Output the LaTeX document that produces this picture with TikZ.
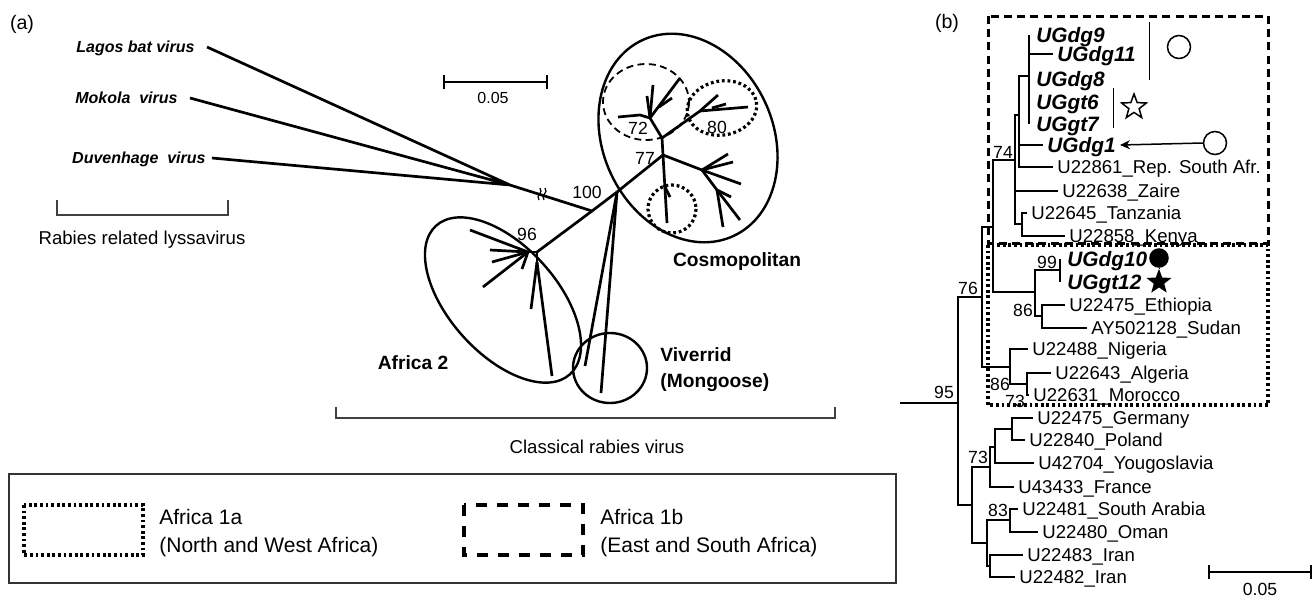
\documentclass[tikz,border=0pt]{standalone}
\usepackage{fontspec}
\setmainfont{Liberation Sans}
\usetikzlibrary{arrows.meta,shapes.geometric,calc}
\tikzset{
  br/.style={line width=1.35pt},
  tb/.style={line width=0.95pt},
  grp/.style={line width=1.2pt},
  dsh/.style={line width=1.5pt, dash pattern=on 4pt off 2.6pt},
  dtt/.style={line width=1.6pt, dash pattern=on 1.4pt off 1.4pt},
  bar/.style={line width=0.7pt, draw=black!75},
  sbar/.style={line width=1.1pt, {Bar[width=7pt]}-{Bar[width=7pt]}},
  boot/.style={font=\fontsize{8.8}{10}\selectfont, inner sep=0pt},
  txt/.style={font=\fontsize{9.3}{11}\selectfont, inner sep=0pt, align=left},
  leg/.style={font=\fontsize{10.5}{14}\selectfont, inner sep=0pt, align=left, anchor=west},
  tip/.style={font=\fontsize{9.3}{11}\selectfont, anchor=west, inner xsep=2pt, inner ysep=0pt, text height=6.6pt, text depth=0pt},
  ug/.style={tip, font=\fontsize{10.4}{12}\selectfont\bfseries\itshape, text height=7.4pt},
  lys/.style={font=\fontsize{8}{10}\selectfont\bfseries\itshape, anchor=east, inner xsep=6pt, inner ysep=0pt, text height=5.7pt, text depth=0pt},
  clade/.style={font=\fontsize{9.6}{13}\selectfont\bfseries, inner sep=0pt, align=left},
  sym/.style={draw, line width=0.75pt, inner sep=0pt}
}

\begin{document}
\begin{tikzpicture}[x=0.5pt, y=-0.5pt]
\useasboundingbox (0,0) rectangle (1314,596);

% (a) unrooted tree
\node[txt, font=\fontsize{9.8}{11}\selectfont] (pa) at (22,24) {(a)};
\node[lys] (lagos) at (207,47) {Lagos bat virus};
\node[lys] (mokola) at (190,98) {Mokola\ \ virus};
\node[lys, inner xsep=3pt] (duven) at (212,158) {Duvenhage\ \ virus};

\coordinate (jl) at (510,185);
\coordinate (jo) at (592,211);
\coordinate (brk) at (540,194);
\coordinate (a96) at (537,252);
\coordinate (a96b) at (528,252);
\coordinate (a96c) at (537,262);
\coordinate (c0) at (617,192);
\coordinate (c77) at (663,155);
\coordinate (c1) at (662,138);
\coordinate (c72) at (650,118);
\coordinate (c80) at (700,111);
\coordinate (c2) at (702,170);
\coordinate (c3) at (717,190);

\draw[br] (lagos.east) -- (jl) (mokola.east) -- (jl) (duven.east) -- (jl);
\draw[br] (jl) -- (jo);
\foreach \dx in {0,5}
  \draw[line width=0.6pt] ($(brk)+(\dx-1,6)$) .. controls ($(brk)+(\dx-5,1)$) and ($(brk)+(\dx+4,-1)$) .. ($(brk)+(\dx,-6)$);
\draw[br] (a96) -- (jo) -- (c0);

\draw[br] (a96) -- (a96b) (a96) -- (a96c);
\foreach \x/\y [count=\i] in {470/230, 490/250, 492/262, 483/287, 522/269}
  \draw[br] (a96b) -- (\x,\y) coordinate (af\i);
\draw[br] (a96c) -- (531,309) coordinate (af6);
\draw[br] (a96c) -- (552,376) coordinate (af7);

\draw[br] (c0) -- (585,366) coordinate (vi1);
\draw[br] (c0) -- (601,393) coordinate (vi2);

\draw[br] (c0) -- (c77) -- (c1) -- (c72);
\draw[br] (c1) -- (c80);
\draw[br] (c77) -- (c2) -- (c3);
\draw[br] (c72) -- (640,115) -- (618,117) coordinate (k1);
\foreach \x/\y [count=\i] in {653/85, 647/96, 680/78}
  \draw[br] (c72) -- (\x,\y) coordinate (k7\i);
\draw[br] (659,107) -- (672,98) coordinate (k74);
\foreach \x/\y [count=\i] in {718/95, 748/107}
  \draw[br] (c80) -- (\x,\y) coordinate (k8\i);
\draw[br] (712,108) -- (726,104) coordinate (k83);
\foreach \x/\y [count=\i] in {728/154, 733/162, 741/184}
  \draw[br] (c2) -- (\x,\y) coordinate (kc\i);
\foreach \x/\y [count=\i] in {740/220, 723/227, 731/197}
  \draw[br] (c3) -- (\x,\y) coordinate (kd\i);
\draw[br] (c77) -- (667,223) coordinate (ke1);
\draw[br] (664,185) -- (670,197) coordinate (ke2);

\draw[grp, rotate around={25:(688,138)}] (688,138) ellipse [x radius=85, y radius=108];
\draw[grp, rotate around={-48:(503,300)}] (503,300) ellipse [x radius=100, y radius=54];
\draw[grp] (610,368) ellipse [x radius=37, y radius=35];
\draw[line width=0.9pt, dash pattern=on 3.5pt off 2.2pt] (646,102) ellipse [x radius=43, y radius=38];
\draw[dtt, rotate around={10:(722,108)}] (722,108) ellipse [x radius=35, y radius=27];
\draw[dtt] (672,209) circle [radius=24];

\node[boot] (b100) at (587,192) {100};
\node[boot] (b96) at (527,234) {96};
\node[boot] (b77) at (645,158) {77};
\node[boot] (b72) at (638,128) {72};
\node[boot] (b80) at (717,127) {80};

\coordinate (sa1) at (443,82);
\coordinate (sa2) at (548,82);
\draw[sbar] (sa1) -- (sa2);
\node[boot, font=\fontsize{8}{10}\selectfont] (sal) at (493,98) {0.05};

\node[clade] (cosmo) at (737,262) {Cosmopolitan};
\node[clade] (afr2) at (413,363) {Africa 2};
\node[clade, anchor=west] (viv) at (660,370) {Viverrid\\(Mongoose)};

\coordinate (rr1) at (57,200);
\coordinate (rr2) at (228,200);
\draw[bar] (rr1) -- ++(0,15) -| (rr2);
\node[txt] (rrl) at (142,240) {Rabies related lyssavirus};
\coordinate (cr1) at (336,407);
\coordinate (cr2) at (835,407);
\draw[bar] (cr1) -- ++(0,11) -| (cr2);
\node[txt] (crl) at (597,447) {Classical rabies virus};

% legend
\draw[line width=0.9pt, draw=black!80] (9,474) rectangle (896,583);
\draw[dtt] (24,505) rectangle (143,555);
\node[leg] (l1a) at (159,533) {Africa 1a\\(North and West Africa)};
\draw[line width=1.6pt, dash pattern=on 5.5pt off 5pt] (464,505) rectangle (583,555);
\node[leg] (l1b) at (600,533) {Africa 1b\\(East and South Africa)};

% (b) rooted tree
\node[txt, font=\fontsize{9.8}{11}\selectfont] (pb) at (947,23) {(b)};
\draw[dsh] (988,16) rectangle (1268,243);
\draw[dtt] (988,245) rectangle (1268,405);

\node[ug] (g9) at (1032,35) {UGdg9};
\node[ug] (g11) at (1053,54) {UGdg11};
\node[ug] (g8) at (1032,79) {UGdg8};
\node[ug] (t6) at (1032,102) {UGgt6};
\node[ug] (t7) at (1032,124) {UGgt7};
\node[ug] (g1) at (1043,145) {UGdg1};
\node[tip] (rsa) at (1053,167) {U22861\_Rep. South Afr.};
\node[tip] (zai) at (1058,191) {U22638\_Zaire};
\node[tip] (tan) at (1027,213) {U22645\_Tanzania};
\node[tip] (ken) at (1065,236) {U22858\_Kenya};
\node[ug] (g10) at (1063,259) {UGdg10};
\node[ug] (t12) at (1063,282) {UGgt12};
\node[tip] (eth) at (1065,305) {U22475\_Ethiopia};
\node[tip] (sud) at (1087,328) {AY502128\_Sudan};
\node[tip] (nig) at (1028,349) {U22488\_Nigeria};
\node[tip] (alg) at (1051,373) {U22643\_Algeria};
\node[tip] (mor) at (1029,395) {U22631\_Morocco};
\node[tip] (ger) at (1033,418) {U22475\_Germany};
\node[tip] (pol) at (1025,440) {U22840\_Poland};
\node[tip] (you) at (1034,463) {U42704\_Yougoslavia};
\node[tip] (fra) at (1014,487) {U43433\_France};
\node[tip] (sar) at (1018,509) {U22481\_South Arabia};
\node[tip] (oma) at (1038,532) {U22480\_Oman};
\node[tip] (ir1) at (1023,555) {U22483\_Iran};
\node[tip] (ir2) at (1015,577) {U22482\_Iran};

\coordinate (broot) at (900,403);
\coordinate (n95) at (958,403);
\coordinate (n76) at (982,297);
\coordinate (nA) at (993,227);
\coordinate (n74) at (1015,160);
\coordinate (nUg) at (1019,115);
\coordinate (nPo) at (1029,76);
\coordinate (nTK) at (1022,224);
\coordinate (nE) at (1035,292);
\coordinate (n99) at (1060,270);
\coordinate (n86) at (1042,316);
\coordinate (nNi) at (1010,367);
\coordinate (n73a) at (1027,384);
\coordinate (nLo) at (972,505);
\coordinate (n73) at (990,467);
\coordinate (nGY) at (995,447);
\coordinate (nGP) at (1012,429);
\coordinate (n83p) at (987,543);
\coordinate (n83) at (1010,520);
\coordinate (nIr) at (990,566);

\draw[tb] (broot) -- (n95);
\draw[tb] (n95) |- (n76) (n95) |- (nLo);
\draw[tb] (n76) |- (nA) (n76) |- (nNi);
\draw[tb] (nA) |- (n74) (nA) |- (nE);
\draw[tb] (n74) |- (nUg) (n74) |- (zai.west) (n74) |- (nTK);
\draw[tb] (nUg) |- (nPo) (nUg) |- (g1.west) (nUg) |- (rsa.west);
\draw[tb] (nPo |- g9.west) -- (nPo |- t7.west) (nPo) |- (g11.west);
\draw[tb] (nTK) |- (tan.west) (nTK) |- (ken.west);
\draw[tb] (nE) |- (n99) (nE) |- (n86);
\draw[tb] (n99 |- g10.west) -- (n99 |- t12.west);
\draw[tb] (n86) |- (eth.west) (n86) |- (sud.west);
\draw[tb] (nNi) |- (nig.west) (nNi) |- (n73a);
\draw[tb] (n73a) |- (alg.west) (n73a) |- (mor.west);
\draw[tb] (nLo) |- (n73) (nLo) |- (n83p);
\draw[tb] (n73) |- (nGY) (n73) |- (fra.west);
\draw[tb] (nGY) |- (nGP) (nGY) |- (you.west);
\draw[tb] (nGP) |- (ger.west) (nGP) |- (pol.west);
\draw[tb] (n83p) |- (n83) (n83p) |- (nIr);
\draw[tb] (n83) |- (sar.west) (n83) |- (oma.west);
\draw[tb] (nIr) |- (ir1.west) (nIr) |- (ir2.west);

\node[boot] (b95) at (944,392) {95};
\node[boot] (b76) at (968,288) {76};
\node[boot] (b74) at (1003,152) {74};
\node[boot] (b99) at (1047,262) {99};
\node[boot] (b86a) at (1023,310) {86};
\node[boot] (b86b) at (1000,384) {86};
\node[boot] (b73a) at (1015,401) {73};
\node[boot] (b73b) at (978,457) {73};
\node[boot] (b83) at (998,510) {83};

\coordinate (m1) at (1149,22);
\coordinate (m2) at (1149,80);
\draw[line width=0.5pt] (m1) -- (m2);
\coordinate (m3) at (1113,88);
\coordinate (m4) at (1113,128);
\draw[line width=0.5pt] (m3) -- (m4);
\node[sym, circle, minimum size=11.5pt] (o1) at (1179,47) {};
\node[sym, star, star points=5, star point ratio=2.4, minimum size=13pt] (s1) at (1134,107) {};
\node[sym, circle, minimum size=11.5pt] (o2) at (1215,143) {};
\draw[line width=0.75pt, -{Stealth[length=5pt, width=4.5pt]}] (o2.west) -- (g1.east);
\node[sym, fill, circle, minimum size=9pt] (f1) at (1159,258) {};
\node[sym, fill, star, star points=5, star point ratio=2.4, minimum size=11pt] (f2) at (1159,282) {};
\draw[line width=0.5pt] (f1) -- (f2);

\coordinate (sb1) at (1208,572);
\coordinate (sb2) at (1312,572);
\draw[sbar] (sb1) -- (sb2);
\node[boot] (sbl) at (1260,589) {0.05};
\end{tikzpicture}
\end{document}
